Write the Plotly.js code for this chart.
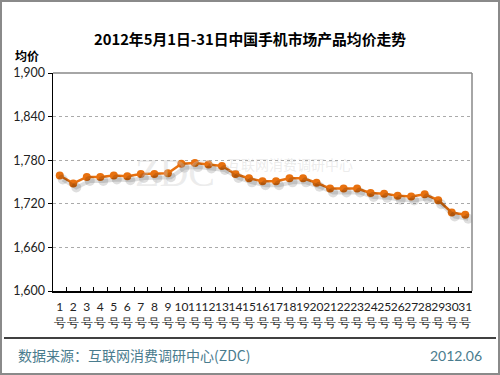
<!DOCTYPE html>
<html><head><meta charset="utf-8">
<script src="https://cdn.plot.ly/plotly-3.0.1.min.js"></script>
<style>html,body{margin:0;padding:0;background:#fff}#chart{width:500px;height:375px}</style>
</head><body><div id="chart"></div>
<script>
const days = [1,2,3,4,5,6,7,8,9,10,11,12,13,14,15,16,17,18,19,20,21,22,23,24,25,26,27,28,29,30,31];
const avgPrice = [1759,1748,1757,1757,1759,1758,1761,1761,1762,1775,1776,1774,1772,1761,1755,1751,1751,1755,1755,1749,1741,1741,1741,1735,1734,1731,1730,1733,1725,1708,1705];
const yTicks = [1600,1660,1720,1780,1840,1900];
const titleText = '2012年5月1日-31日中国手机市场产品均价走势';
const yTitle = '均价';
const sourceText = '数据来源：互联网消费调研中心(ZDC)';
const dateText = '2012.06';

const xLabels = days.map(d => d + '<br>号');
const idx = days.map((d,i) => i);

const W = 419, H = 218, L = 53, B = 84, T = 73;
const px = x => (x - L) / W;
const py = y => (T + H - y) / H;
const catPx = W / days.length;
const yPerPx = (yTicks[yTicks.length-1] - yTicks[0]) / H;

const orange = '#E8710F';
const cjk = '"Noto Sans CJK SC", "Noto Sans", sans-serif';
const num = 'Lato, "DejaVu Sans", sans-serif';

const traces = [
  {x: idx, y: avgPrice, xaxis: 'x2', yaxis: 'y2', type: 'scatter', mode: 'lines+markers',
   line: {color: 'rgba(0,0,0,0.13)', width: 4}, marker: {size: 10, color: 'rgba(0,0,0,0.13)'},
   hoverinfo: 'skip', showlegend: false},
  {x: idx, y: avgPrice, type: 'scatter', mode: 'lines+markers',
   line: {color: orange, width: 2.5}, marker: {size: 8, color: orange}, showlegend: false}
];

const layout = {
  width: 500, height: 375,
  margin: {l: L, r: 500 - L - W, t: T, b: B, pad: 0},
  paper_bgcolor: '#fff', plot_bgcolor: '#fff',
  title: {text: '<b>' + titleText + '</b>', font: {family: cjk, size: 14.8, color: '#000'},
          x: 0.5, xanchor: 'center', y: 1 - 40/375, yanchor: 'middle'},
  xaxis: {
    range: [-0.5, days.length - 0.5], tickmode: 'array', tickvals: idx, ticktext: xLabels,
    tickangle: 0, showgrid: false, zeroline: false,
    showline: true, linecolor: '#000', linewidth: 1.5,
    ticks: '', ticklabelstandoff: 4, tickfont: {family: num, size: 12, color: '#222'},
    minor: {tickmode: 'array', tickvals: idx.slice(1).map(i => i - 0.5), ticks: 'inside', ticklen: 4, tickcolor: '#000', showgrid: false},
    mirror: false, fixedrange: true
  },
  yaxis: {
    range: [yTicks[0], yTicks[yTicks.length-1]], tickvals: yTicks, tickformat: ',d',
    showgrid: true, gridcolor: '#aaa', griddash: 'dot', gridwidth: 1,
    zeroline: false, showline: true, linecolor: '#000', linewidth: 1.5,
    ticks: 'outside', ticklen: 4, tickcolor: '#000',
    tickfont: {family: num, size: 12.5, color: '#222'}, fixedrange: true
  },
  xaxis2: {overlaying: 'x', range: [-0.5 - 3/catPx, days.length - 0.5 - 3/catPx], visible: false, fixedrange: true},
  yaxis2: {overlaying: 'y', range: [yTicks[0] + 4*yPerPx, yTicks[yTicks.length-1] + 4*yPerPx], visible: false, fixedrange: true},
  shapes: [
    {type: 'line', xref: 'paper', yref: 'paper', x0: 0, x1: 1, y0: 1, y1: 1, line: {color: '#888', width: 1.5}},
    {type: 'line', xref: 'paper', yref: 'paper', x0: 1, x1: 1, y0: 0, y1: 1, line: {color: '#888', width: 1.5}},
    {type: 'line', xref: 'paper', yref: 'paper', x0: px(4), x1: px(496), y0: py(338), y1: py(338), line: {color: '#000', width: 1.5}},
    {type: 'rect', xref: 'paper', yref: 'paper', x0: px(1), x1: px(499), y0: py(1), y1: py(374), line: {color: '#8a8a8a', width: 2}}
  ],
  annotations: [
    {text: '<b>' + yTitle + '</b>', xref: 'paper', yref: 'paper', x: px(13), y: py(56), xanchor: 'left', yanchor: 'middle',
     showarrow: false, font: {family: cjk, size: 12, color: '#000'}},
    {text: sourceText, xref: 'paper', yref: 'paper', x: px(16), y: py(355), xanchor: 'left', yanchor: 'middle',
     showarrow: false, font: {family: cjk, size: 14, color: '#4A7C8E'}},
    {text: dateText, xref: 'paper', yref: 'paper', x: px(484), y: py(355), xanchor: 'right', yanchor: 'middle',
     showarrow: false, font: {family: num, size: 14, color: '#4A7C8E'}},
    {text: 'ZDC', xref: 'paper', yref: 'paper', x: px(175), y: py(172), xanchor: 'center', yanchor: 'middle',
     showarrow: false, font: {family: 'Liberation Serif, serif', size: 40, color: 'rgba(200,200,200,0.35)'}},
    {text: '互联网消费调研中心', xref: 'paper', yref: 'paper', x: px(225), y: py(164), xanchor: 'left', yanchor: 'middle',
     showarrow: false, font: {family: cjk, size: 14, color: 'rgba(200,200,200,0.35)'}}
  ]
};

Plotly.newPlot('chart', traces, layout, {displayModeBar: false, staticPlot: true});
</script></body></html>
